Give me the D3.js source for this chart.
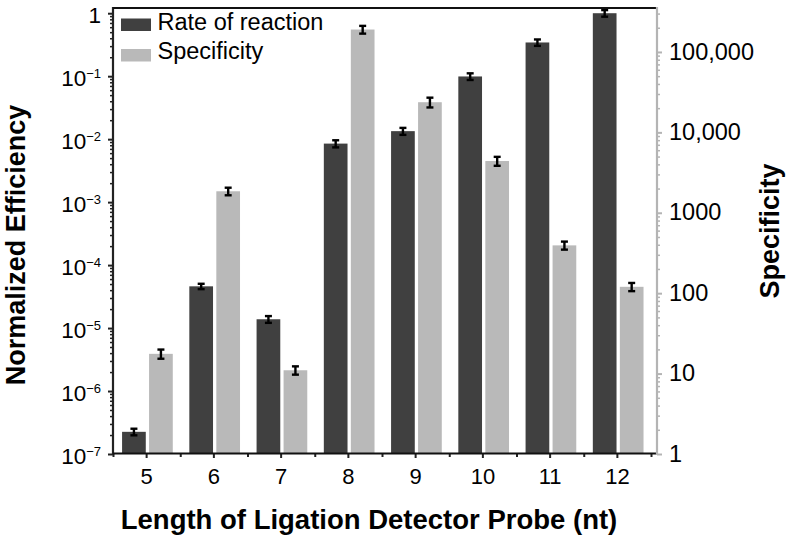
<!DOCTYPE html>
<html>
<head>
<meta charset="utf-8">
<script src="https://cdn.jsdelivr.net/npm/d3@7"></script>
<style>
  html, body { margin: 0; padding: 0; background: #fff; }
  svg { display: block; font-family: "Liberation Sans", Arial, sans-serif; }
</style>
</head>
<body>
<svg id="chart" width="788" height="538"></svg>
<script>
// ---- data ----
const categories = ["5", "6", "7", "8", "9", "10", "11", "12"];
const rateValues = [2.25e-7, 4.6e-5, 1.38e-5, 8.5e-3, 1.34e-2, 0.099, 0.343, 1.0];
const rateErrors = [0.27e-7, 0.45e-5, 0.17e-5, 1.1e-3, 1.7e-3, 0.012, 0.04, 0.12];
const specValues = [17.6, 1850, 11.0, 190000, 23700, 4400, 393, 120];
const specErrors = [2.3, 200, 1.3, 21000, 3300, 560, 45, 14];
const leftTicks = [1e-7, 1e-6, 1e-5, 1e-4, 1e-3, 1e-2, 1e-1, 1];
const leftExponents = ["−7", "−6", "−5", "−4", "−3", "−2", "−1", ""];
const rightTicks = [1, 10, 100, 1000, 10000, 100000];
const rightTickLabels = ["1", "10", "100", "1000", "10,000", "100,000"];
const seriesNames = ["Rate of reaction", "Specificity"];

// ---- layout ----
const L = 113, R = 657, T = 8, B = 454;
const bandRight = 651;
const darkColor = "#404040", lightColor = "#b9b9b9", rightAxisColor = "#b4b4b4";

const svg = d3.select("#chart");

const x = d3.scaleBand().domain(categories).range([L, bandRight]).paddingInner(0).paddingOuter(0);
const xBound = d3.scaleLinear().domain([0, categories.length]).range([L, bandRight]);
const yL = d3.scaleLog().domain([1e-7, 1.21]).range([B, T]);
const yR = d3.scaleLog().domain([1, 352000]).range([B, T]);

// minor tick values
const leftMinor = [];
for (let e = -7; e < 0; e++) for (let k = 2; k <= 9; k++) leftMinor.push(k * Math.pow(10, e));
const rightMinor = [];
for (let e = 0; e <= 5; e++) for (let k = 2; k <= 9; k++) {
  const v = k * Math.pow(10, e);
  if (v <= 352000) rightMinor.push(v);
}

// bars
const barW = 23.7, gap = 3.3, shift = 0.8;
const cx = c => x(c) + x.bandwidth() / 2;

const gBars = svg.append("g");
categories.forEach((c, i) => {
  const xc = cx(c) + shift;
  gBars.append("rect")
    .attr("x", xc - gap / 2 - barW).attr("width", barW)
    .attr("y", yL(rateValues[i])).attr("height", B - yL(rateValues[i]))
    .attr("fill", darkColor);
  gBars.append("rect")
    .attr("x", xc + gap / 2).attr("width", barW)
    .attr("y", yR(specValues[i])).attr("height", B - yR(specValues[i]))
    .attr("fill", lightColor);
});

// error bars
const gErr = svg.append("g").attr("stroke", "#000").attr("stroke-width", 2.4).attr("fill", "none");
function errBar(xm, y1, y2) {
  gErr.append("line").attr("x1", xm).attr("x2", xm).attr("y1", y1).attr("y2", y2);
  gErr.append("line").attr("x1", xm - 3.5).attr("x2", xm + 3.5).attr("y1", y1).attr("y2", y1);
  gErr.append("line").attr("x1", xm - 3.5).attr("x2", xm + 3.5).attr("y1", y2).attr("y2", y2);
}
categories.forEach((c, i) => {
  const xc = cx(c) + shift;
  errBar(xc - gap / 2 - barW / 2, yL(rateValues[i] + rateErrors[i]), yL(rateValues[i] - rateErrors[i]));
  errBar(xc + gap / 2 + barW / 2, yR(specValues[i] + specErrors[i]), yR(specValues[i] - specErrors[i]));
});

// ---- left axis ----
const gLeftMinor = svg.append("g").attr("transform", `translate(${L},0)`)
  .call(d3.axisLeft(yL).tickValues(leftMinor).tickSize(3).tickSizeOuter(0).tickFormat(""));
gLeftMinor.select(".domain").remove();
gLeftMinor.selectAll("line").attr("stroke", "#222").attr("stroke-width", 1.5);

const gLeft = svg.append("g").attr("transform", `translate(${L},0)`)
  .call(d3.axisLeft(yL).tickValues(leftTicks).tickSize(5).tickSizeOuter(0).tickPadding(7));
gLeft.select(".domain").remove();
gLeft.selectAll("line").attr("stroke", "#222").attr("stroke-width", 2);
gLeft.selectAll("text")
  .attr("font-size", 22.5).attr("fill", "#000").attr("dy", "0.42em")
  .each(function(d) {
    const t = d3.select(this);
    t.text(null);
    const ex = leftExponents[leftTicks.indexOf(d)];
    if (ex === "") {
      t.append("tspan").text("1");
    } else {
      t.append("tspan").text("10");
      t.append("tspan").attr("font-size", 13).attr("dy", -8).text(ex);
    }
  });

// ---- right axis ----
const gRightMinor = svg.append("g").attr("transform", `translate(${R},0)`)
  .call(d3.axisRight(yR).tickValues(rightMinor).tickSize(3).tickSizeOuter(0).tickFormat(""));
gRightMinor.select(".domain").remove();
gRightMinor.selectAll("line").attr("stroke", rightAxisColor).attr("stroke-width", 1.5);

const gRight = svg.append("g").attr("transform", `translate(${R},0)`)
  .call(d3.axisRight(yR).tickValues(rightTicks).tickSize(5).tickSizeOuter(0).tickPadding(7)
    .tickFormat((d, i) => rightTickLabels[i]));
gRight.select(".domain").remove();
gRight.selectAll("line").attr("stroke", rightAxisColor).attr("stroke-width", 2);
gRight.selectAll("text").attr("font-size", 23.5).attr("fill", "#000").attr("dy", "0.3em");

// ---- bottom axis ----
const gXBound = svg.append("g").attr("transform", `translate(0,${B})`)
  .call(d3.axisBottom(xBound).ticks(categories.length).tickSize(3).tickSizeOuter(0).tickFormat(""));
gXBound.select(".domain").remove();
gXBound.selectAll("line").attr("stroke", "#222").attr("stroke-width", 2);

const gX = svg.append("g").attr("transform", `translate(0,${B})`)
  .call(d3.axisBottom(x).tickSize(4).tickSizeOuter(0).tickPadding(10));
gX.select(".domain").remove();
gX.selectAll("line").attr("stroke", "#222").attr("stroke-width", 2);
gX.selectAll("text").attr("font-size", 22).attr("fill", "#000");

// ---- frame lines ----
svg.append("line").attr("x1", L).attr("x2", L).attr("y1", T - 1).attr("y2", B + 1)
  .attr("stroke", "#222").attr("stroke-width", 2.2);
svg.append("line").attr("x1", L).attr("x2", R).attr("y1", T).attr("y2", T)
  .attr("stroke", "#111").attr("stroke-width", 2.2);
svg.append("line").attr("x1", L).attr("x2", R).attr("y1", B - 0.5).attr("y2", B - 0.5)
  .attr("stroke", "#111").attr("stroke-width", 2.2);
svg.append("line").attr("x1", R).attr("x2", R).attr("y1", T - 1).attr("y2", B + 1)
  .attr("stroke", rightAxisColor).attr("stroke-width", 2.2);

// ---- legend ----
const legend = svg.append("g");
const legColors = [darkColor, lightColor];
seriesNames.forEach((name, i) => {
  legend.append("rect").attr("x", 121).attr("y", 18.5 + i * 30.5).attr("width", 30).attr("height", 12.5)
    .attr("fill", legColors[i]);
  legend.append("text").attr("x", 157.5).attr("y", 30 + i * 28.5)
    .attr("font-size", 23.5).attr("fill", "#000").text(name);
});

// ---- titles ----
svg.append("text").attr("transform", "translate(25,245) rotate(-90)")
  .attr("text-anchor", "middle").attr("font-size", 27).attr("font-weight", "bold")
  .attr("fill", "#000").text("Normalized Efficiency");
svg.append("text").attr("transform", "translate(779,231) rotate(-90)")
  .attr("text-anchor", "middle").attr("font-size", 27).attr("font-weight", "bold")
  .attr("fill", "#000").text("Specificity");
svg.append("text").attr("x", 369).attr("y", 529)
  .attr("text-anchor", "middle").attr("font-size", 27.5).attr("font-weight", "bold")
  .attr("fill", "#000").text("Length of Ligation Detector Probe (nt)");
</script>
</body>
</html>
